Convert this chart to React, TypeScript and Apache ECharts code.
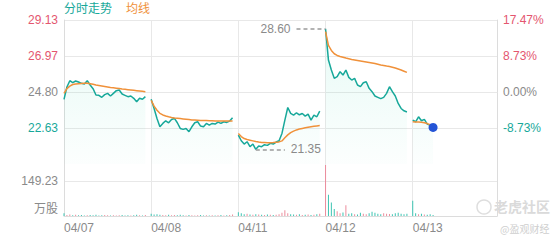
import React, { useEffect, useRef } from 'react';
import * as echarts from 'echarts';

// ---- data ----
const dayLabels = ['04/07', '04/08', '04/11', '04/12', '04/13'];
const SLOTS_PER_DAY = 30;
const basePrice = 24.8; // previous close (0.00%)

const price0407 = [24.36, 25.1, 25.48, 25.36, 25.46, 25.4, 25.32, 25.28, 25.48, 25.22, 25.0, 24.62, 24.6, 24.48, 24.64, 24.72, 24.56, 24.72, 24.88, 24.92, 24.68, 24.6, 24.52, 24.56, 24.42, 24.21, 24.42, 24.36, 24.52];
const price0408 = [24.36, 23.81, 23.21, 22.71, 22.91, 23.07, 22.95, 23.15, 23.21, 22.95, 22.61, 22.55, 22.61, 22.41, 22.71, 22.95, 23.01, 22.75, 22.71, 22.91, 22.81, 22.91, 22.87, 22.99, 22.91, 23.01, 22.97, 23.05, 23.25];
const price0411 = [22.21, 21.87, 21.67, 21.81, 21.51, 21.67, 21.35, 21.55, 21.51, 21.63, 21.59, 21.71, 21.67, 21.79, 21.87, 22.31, 23.11, 23.87, 23.51, 23.41, 23.55, 23.43, 23.51, 23.35, 23.47, 23.11, 23.41, 23.31, 23.65];
const price0412 = [28.6, 26.72, 26.12, 25.62, 25.72, 26.02, 25.82, 26.12, 25.68, 25.52, 25.62, 25.22, 25.12, 25.36, 25.42, 25.02, 24.82, 24.56, 24.48, 24.4, 24.48, 24.72, 25.12, 24.82, 24.56, 24.11, 23.81, 23.67, 23.6];
const price0413 = [23.11, 23.01, 23.31, 23.07, 23.15, 22.87, 22.79, 22.67];

const avg0407 = [24.72, 25.0, 25.15, 25.25, 25.28, 25.3, 25.31, 25.32, 25.32, 25.3, 25.26, 25.22, 25.19, 25.16, 25.13, 25.1, 25.07, 25.05, 25.03, 25.01, 24.98, 24.96, 24.94, 24.92, 24.9, 24.88, 24.86, 24.84, 24.82];
const avg0408 = [24.3, 23.95, 23.7, 23.52, 23.42, 23.36, 23.31, 23.27, 23.24, 23.22, 23.2, 23.18, 23.16, 23.14, 23.12, 23.11, 23.1, 23.09, 23.08, 23.08, 23.07, 23.07, 23.06, 23.06, 23.06, 23.05, 23.05, 23.05, 23.05];
const avg0411 = [22.31, 22.12, 22.0, 21.94, 21.9, 21.86, 21.82, 21.79, 21.77, 21.76, 21.75, 21.75, 21.76, 21.78, 21.8, 21.86, 22.05, 22.22, 22.36, 22.45, 22.52, 22.57, 22.61, 22.65, 22.68, 22.71, 22.74, 22.76, 22.78];
const avg0412 = [28.43, 27.6, 27.3, 27.1, 27.0, 26.94, 26.89, 26.84, 26.8, 26.76, 26.73, 26.7, 26.67, 26.64, 26.61, 26.58, 26.55, 26.51, 26.47, 26.43, 26.4, 26.36, 26.33, 26.29, 26.24, 26.18, 26.12, 26.05, 25.98];
const avg0413 = [23.01, 23.0, 23.0, 22.98, 22.95, 22.9, 22.83, 22.76];

const vol0407 = [12, 4, 6, 3, 5, 3, 4, 2, 3, 4, 3, 5, 2, 3, 4, 3, 2, 3, 2, 3, 4, 2, 3, 2, 3, 5, 3, 2, 4];
const vol0408 = [10, 6, 8, 5, 4, 3, 5, 3, 4, 3, 5, 3, 2, 4, 3, 2, 3, 4, 2, 3, 2, 3, 2, 3, 4, 2, 3, 4, 6];
const vol0411 = [16, 12, 8, 10, 6, 5, 8, 6, 5, 4, 6, 5, 4, 5, 8, 14, 25, 12, 8, 6, 5, 8, 4, 5, 6, 4, 5, 8, 10];
const vol0412 = [220, 91, 58, 30, 20, 12, 15, 46, 10, 12, 8, 6, 14, 10, 8, 12, 18, 14, 10, 8, 12, 10, 9, 8, 12, 14, 10, 8, 10];
const vol0413 = [66, 12, 8, 10, 6, 5, 8, 4];

const priceTickLabels = ['20.47', '22.63', '24.80', '26.97', '29.13'];
const pctTickLabels = ['-17.47%', '-8.73%', '0.00%', '8.73%', '17.47%'];
const tickTone = ['neg', 'neg', 'flat', 'pos', 'pos'];
const volTickLabel = '149.23';
const volUnit = '万股';

const priceDays = [price0407, price0408, price0411, price0412, price0413];
const avgDays = [avg0407, avg0408, avg0411, avg0412, avg0413];
const volDays = [vol0407, vol0408, vol0411, vol0412, vol0413];

// ---- styles ----
const TEAL = '#17a89a';
const ORANGE = '#f0913a';
const RED = '#e4566f';
const GRAY = '#8a8a8a';
const GRID = '#e8e8e8';
const BORDER = '#dcdcdc';
const FONT = 'Arial, "Liberation Sans", "Noto Sans CJK SC", sans-serif';
const HALF = 4.33; // price half range around base
const STEP = 2.165;
const VOL_STEP = 149.23;

function pad(arr: number[]): (number | null)[] {
  const out: (number | null)[] = arr.slice();
  while (out.length < SLOTS_PER_DAY) out.push(null);
  return out;
}

const categories = dayLabels.flatMap((d) => Array.from({ length: SLOTS_PER_DAY }, (_, k) => `${d}#${k}`));
const priceSeries = priceDays.flatMap((d) => pad(d)).map((v) => (v == null ? null : +(v - basePrice).toFixed(4)));
const avgSeries = avgDays.flatMap((d) => pad(d)).map((v) => (v == null ? null : +(v - basePrice).toFixed(4)));
const volSeries = volDays.flatMap((vols, di) => {
  const prices = priceDays[di];
  const prevClose = di > 0 ? priceDays[di - 1][priceDays[di - 1].length - 1] : basePrice;
  return pad(vols).map((v, i) => {
    if (v == null) return null;
    const prev = i === 0 ? prevClose : prices[i - 1];
    const up = prices[i] >= prev;
    return { value: v, itemStyle: { color: up ? '#ec8c9c' : '#3cc4b2' } };
  });
});

let maxIdx = 0;
let minIdx = 0;
priceSeries.forEach((v, i) => {
  if (v == null) return;
  if (v > (priceSeries[maxIdx] as number)) maxIdx = i;
  if (v < (priceSeries[minIdx] as number)) minIdx = i;
});
let lastIdx = 0;
priceSeries.forEach((v, i) => { if (v != null) lastIdx = i; });

const isDayStart = (_i: number, v: string) => String(v).endsWith('#0');
const tickIndex = (v: number) => Math.round((v + HALF) / STEP);

export default function App() {
  const ref = useRef<HTMLDivElement>(null);
  useEffect(() => {
    if (!ref.current) return;
    const chart = echarts.init(ref.current, null, { renderer: 'svg' });
    const richTones = {
      pos: { color: RED, fontSize: 12, fontFamily: FONT },
      neg: { color: TEAL, fontSize: 12, fontFamily: FONT },
      flat: { color: GRAY, fontSize: 12, fontFamily: FONT },
    };
    const maxVal = priceSeries[maxIdx] as number;
    const minVal = priceSeries[minIdx] as number;
    const lbl = (pos: string, text: string) => ({ show: true, position: pos, color: GRAY, fontSize: 12, distance: 6, formatter: text });
    const option: any = {
      animation: false,
      textStyle: { fontFamily: FONT },
      legend: {
        left: 59,
        top: 3,
        padding: 0,
        itemWidth: 0,
        itemHeight: 0,
        itemGap: 9,
        icon: 'rect',
        textStyle: { fontSize: 12 },
        data: [
          { name: '分时走势', textStyle: { color: TEAL } },
          { name: '均线', textStyle: { color: ORANGE } },
        ],
      },
      grid: [
        { left: 64, right: 63, top: 20, height: 144, outerBoundsMode: 'none' },
        { left: 64, right: 63, top: 164, height: 52, outerBoundsMode: 'none' },
      ],
      xAxis: [
        {
          type: 'category', gridIndex: 0, data: categories, boundaryGap: false, position: 'top',
          axisLine: { show: true, lineStyle: { color: GRID } }, axisTick: { show: false }, axisLabel: { show: false },
          splitLine: { show: true, interval: isDayStart, lineStyle: { color: GRID, width: 1 } },
        },
        {
          type: 'category', gridIndex: 1, data: categories, boundaryGap: false,
          axisLine: { show: true, lineStyle: { color: BORDER } }, axisTick: { show: false },
          axisLabel: {
            show: true, interval: isDayStart, align: 'left', color: GRAY, fontSize: 12, margin: 6,
            formatter: (v: string) => String(v).split('#')[0],
          },
          splitLine: { show: true, interval: isDayStart, lineStyle: { color: GRID, width: 1 } },
        },
      ],
      yAxis: [
        {
          type: 'value', gridIndex: 0, position: 'left', min: -HALF, max: HALF, interval: STEP,
          axisLine: { show: true, lineStyle: { color: BORDER } }, axisTick: { show: false },
          axisLabel: {
            showMinLabel: false, margin: 6, fontSize: 12,
            formatter: (v: number) => { const k = tickIndex(v); return `{${tickTone[k]}|${priceTickLabels[k]}}`; },
            rich: richTones,
          },
          splitLine: { show: true, lineStyle: { color: ['rgba(0,0,0,0)', GRID, GRID, GRID, GRID] } },
        },
        {
          type: 'value', gridIndex: 0, position: 'right', min: -HALF, max: HALF, interval: STEP,
          axisLine: { show: true, lineStyle: { color: BORDER } }, axisTick: { show: false },
          axisLabel: {
            showMinLabel: false, margin: 6, fontSize: 12,
            formatter: (v: number) => { const k = tickIndex(v); return `{${tickTone[k]}|${pctTickLabels[k]}}`; },
            rich: richTones,
          },
          splitLine: { show: false },
        },
        {
          type: 'value', gridIndex: 1, position: 'left', min: 0, max: VOL_STEP * 1.5, interval: VOL_STEP,
          axisLine: { show: true, lineStyle: { color: BORDER } }, axisTick: { show: false },
          axisLabel: {
            margin: 6, fontSize: 12, color: GRAY, showMaxLabel: false,
            formatter: (v: number) => (Math.abs(v - VOL_STEP) < 0.01 ? volTickLabel : ''),
          },
          splitLine: { show: true, lineStyle: { color: [GRID, GRID, 'rgba(0,0,0,0)'] } },
        },
        {
          type: 'value', gridIndex: 1, position: 'right', min: 0, max: VOL_STEP * 1.5, interval: VOL_STEP,
          axisLine: { show: true, lineStyle: { color: BORDER } }, axisTick: { show: false },
          axisLabel: { show: false }, splitLine: { show: false },
        },
      ],
      graphic: [
        { type: 'text', right: 560 - 58, top: 203, style: { text: volUnit, fill: GRAY, fontSize: 12, fontFamily: FONT } },
        { type: 'circle', shape: { cx: 484, cy: 207, r: 7 }, style: { fill: 'none', stroke: '#dedede', lineWidth: 1.5 } },
        { type: 'text', left: 494, top: 199, style: { text: '老虎社区', fill: '#dadada', fontSize: 14, fontWeight: 'bold', fontFamily: '"Noto Sans CJK SC", sans-serif' } },
        { type: 'text', left: 500, top: 223, style: { text: '@盈观财经', fill: '#cfcfcf', fontSize: 10, fontFamily: '"Noto Sans CJK SC", sans-serif' } },
      ],
      series: [
        {
          name: '分时走势', type: 'line', xAxisIndex: 0, yAxisIndex: 0, data: priceSeries,
          showSymbol: false, connectNulls: false,
          lineStyle: { color: TEAL, width: 1.5 }, itemStyle: { color: TEAL },
          areaStyle: {
            origin: 'start',
            color: new echarts.graphic.LinearGradient(0, 0, 0, 1, [
              { offset: 0, color: 'rgba(40,210,170,0.16)' },
              { offset: 1, color: 'rgba(40,210,170,0.02)' },
            ]),
          },
          markLine: {
            silent: true, symbol: ['none', 'none'],
            lineStyle: { color: '#9a9a9a', type: [4, 3], width: 1.5 },
            data: [
              [
                { coord: [maxIdx - 10, maxVal], label: lbl('start', (maxVal + basePrice).toFixed(2)) },
                { coord: [maxIdx, maxVal], label: lbl('start', (maxVal + basePrice).toFixed(2)) },
              ],
              [
                { coord: [minIdx, minVal], label: lbl('end', (minVal + basePrice).toFixed(2)) },
                { coord: [minIdx + 10, minVal], label: lbl('end', (minVal + basePrice).toFixed(2)) },
              ],
            ],
          },
          markPoint: {
            silent: true, symbol: 'circle', symbolSize: 9,
            itemStyle: { color: '#2454d6' }, label: { show: false },
            data: [{ coord: [lastIdx, priceSeries[lastIdx]] }],
          },
        },
        {
          name: '均线', type: 'line', xAxisIndex: 0, yAxisIndex: 0, data: avgSeries,
          showSymbol: false, connectNulls: false,
          lineStyle: { color: ORANGE, width: 1.5 }, itemStyle: { color: ORANGE },
        },
        {
          name: '成交量', type: 'bar', xAxisIndex: 1, yAxisIndex: 2, data: volSeries,
          barWidth: 1, barGap: '0%',
        },
      ],
    };
    chart.setOption(option);
    return () => chart.dispose();
  }, []);
  return <div ref={ref} style={{ position: 'fixed', left: 0, top: 0, width: 560, height: 240, background: '#fff' }} />;
}
